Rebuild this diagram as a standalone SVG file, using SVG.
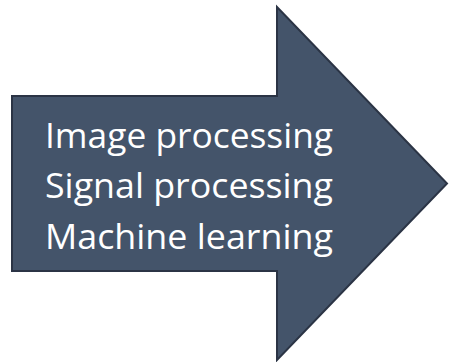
<svg xmlns="http://www.w3.org/2000/svg" width="449" height="362" viewBox="0 0 449 362">
<style>
.arrow{fill:#44546a;stroke:#2b3445;stroke-width:2;stroke-linejoin:miter}
.lbl{font-family:"Open Sans","Liberation Sans",Arial,sans-serif;font-size:35px;fill:#ffffff;text-anchor:middle}
</style>
<g id="arrow">
<polygon class="arrow" points="12,96 277,96 277,7 447,183.5 277,360 277,271 12,271"/>
<text class="lbl" x="189" y="148" textLength="288" lengthAdjust="spacingAndGlyphs">Image processing</text>
<text class="lbl" x="189" y="198" textLength="288" lengthAdjust="spacingAndGlyphs">Signal processing</text>
<text class="lbl" x="189" y="249" textLength="288" lengthAdjust="spacingAndGlyphs">Machine learning</text>
</g>
</svg>
